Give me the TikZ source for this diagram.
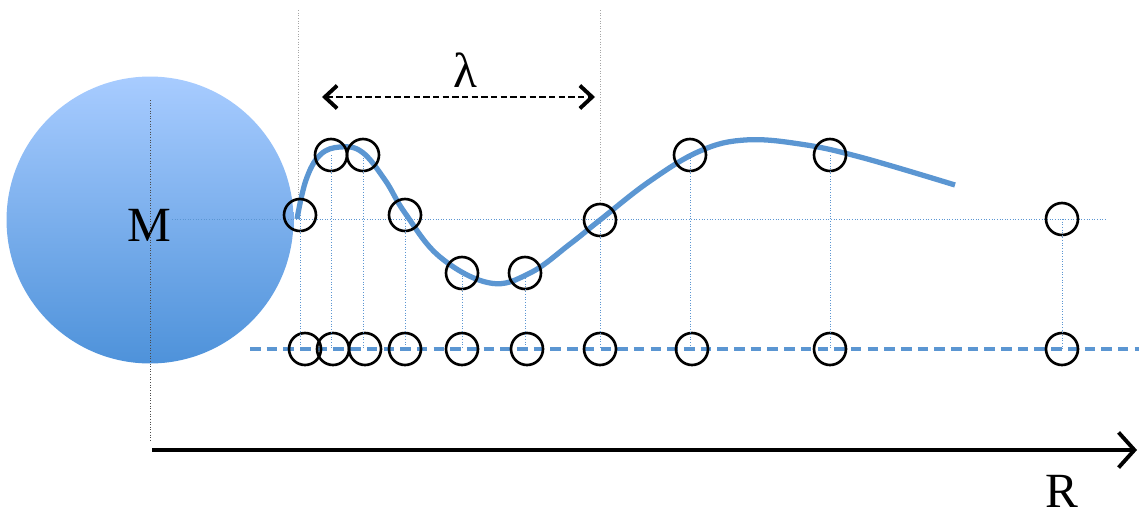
\documentclass[tikz,border=0pt]{standalone}
\usepackage{fontspec}
\setmainfont{Liberation Serif}
\usetikzlibrary{arrows.meta}

\definecolor{wave}{RGB}{91,150,210}
\definecolor{massT}{RGB}{168,204,255}
\definecolor{massB}{RGB}{78,146,218}

\tikzset{
	ring/.style={circle, draw=black, line width=1.5pt, minimum size=0.64cm, inner sep=0pt},
	guide/.style={wave, densely dotted, line width=0.5pt},
	grid/.style={gray!70, densely dotted, line width=0.5pt},
	label/.style={font=\fontsize{28}{32}\selectfont, inner sep=0pt}
}

\begin{document}
\begin{tikzpicture}[x=0.02cm, y=-0.02cm]
				\useasboundingbox (0,0) rectangle (1139,518);
				
				% Mass
				\node[circle, minimum size=5.74cm, inner sep=0pt, top color=massT, bottom color=massB] (mass) at (150,220) {};
				\node[label] (M) at (149,225) {M};
				\draw[grid, gray!60!black] (150,100) -- (150,440);
				
				% Guide lines
				\draw[guide] (172,219) -- (1107,219);
				\draw[wave, dash pattern=on 6pt off 3.5pt, line width=1.8pt] (250,349) -- (1139,349);
				
				% Wave
				\draw[wave, line width=3pt] plot[smooth, tension=0.65] coordinates {
					(297,219) (306,180) (320,155) (340,147) (362,152) (385,180) (405,213)
					(440,257) (490,283) (530,273) (570,244) (600,220) (650,181)
					(700,151) (745,140) (800,144) (860,157) (955,185)};
				
				% Upper circles
				\node[ring] (u1) at (300,215) {};
				\node[ring] (u2) at (331,155) {};
				\node[ring] (u3) at (363,155) {};
				\node[ring] (u4) at (405,215) {};
				\node[ring] (u5) at (462,273) {};
				\node[ring] (u6) at (525,273) {};
				\node[ring] (u7) at (600,220) {};
				\node[ring] (u8) at (690,155) {};
				\node[ring] (u9) at (830,155) {};
				\node[ring] (u10) at (1062,219) {};
				
				% Lower circles
				\node[ring] (l1) at (305,349) {};
				\node[ring] (l2) at (333,349) {};
				\node[ring] (l3) at (365,349) {};
				\node[ring] (l4) at (405,349) {};
				\node[ring] (l5) at (462,349) {};
				\node[ring] (l6) at (527,349) {};
				\node[ring] (l7) at (600,349) {};
				\node[ring] (l8) at (692,349) {};
				\node[ring] (l9) at (830,349) {};
				\node[ring] (l10) at (1062,349) {};
				
				% Projections
				\draw[guide] (u1.center) -- (u1.center |- l1.center);
				\draw[guide] (u2.center) -- (u2.center |- l2.center);
				\draw[guide] (u3.center) -- (u3.center |- l3.center);
				\draw[guide] (u4.center) -- (l4.center);
				\draw[guide] (u5.center) -- (l5.center);
				\draw[guide] (u6.center) -- (u6.center |- l6.center);
				\draw[guide] (u7.center) -- (l7.center);
				\draw[guide] (u8.center) -- (u8.center |- l8.center);
				\draw[guide] (u9.center) -- (l9.center);
				\draw[guide] (u10.center) -- (l10.center);
				
				% Wavelength
				\coordinate (ta) at (298,10);
				\coordinate (tb) at (600,10);
				\draw[grid] (ta) -- (ta |- u1.north);
				\draw[grid] (tb) -- (tb |- u7.north);
				\coordinate (la) at (322,97);
				\coordinate (lb) at (595,97);
				\draw[dash pattern=on 3.5pt off 2pt, line width=1.7pt, {Straight Barb[length=7pt, width=13pt, line width=2.2pt]}-{Straight Barb[length=7pt, width=13pt, line width=2.2pt]}] (la) -- (lb);
				\node[label] (lam) at (465,70) {λ};
				
				% Axis
				\coordinate (o) at (152,450);
				\coordinate (e) at (1137,450);
				\draw[line width=2pt, -{Straight Barb[length=9pt, width=20pt, line width=2.2pt]}] (o) -- (e);
				\node[label, anchor=base] (R) at (1062,507) {R};
			\end{tikzpicture}
\end{document}
